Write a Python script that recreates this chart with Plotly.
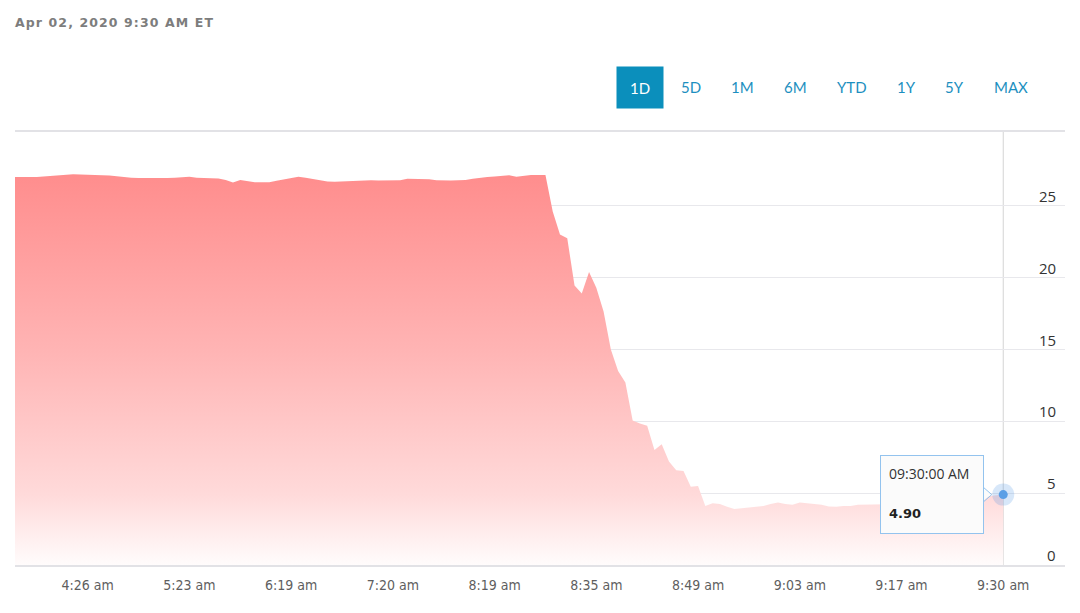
import plotly.graph_objects as go

# ---- data (price per sample, index-based time axis) ----
price = [
    27.00, 27.02, 27.00, 27.00, 27.05, 27.10, 27.15, 27.20, 27.20, 27.18,
    27.15, 27.15, 27.13, 27.12, 27.05, 27.00, 26.96, 26.94, 26.93, 26.93,
    26.93, 26.93, 26.95, 27.00, 27.03, 26.95, 26.93, 26.93, 26.90, 26.80,
    26.63, 26.80, 26.70, 26.65, 26.65, 26.65, 26.75, 26.85, 26.95, 27.03,
    26.95, 26.86, 26.80, 26.70, 26.68, 26.70, 26.75, 26.78, 26.78, 26.78,
    26.76, 26.75, 26.74, 26.78, 26.88, 26.87, 26.86, 26.85, 26.78, 26.76,
    26.76, 26.78, 26.80, 26.88, 26.96, 27.00, 27.05, 27.10, 27.13, 27.02,
    27.10, 27.15, 27.15, 27.15, 24.60, 23.00, 22.75, 19.45, 18.90, 20.40,
    19.30, 17.65, 15.00, 13.50, 12.70, 10.05, 9.85, 9.70, 8.00, 8.40,
    7.20, 6.60, 6.55, 5.45, 5.50, 4.10, 4.30, 4.25, 4.05, 3.90,
    3.95, 4.00, 4.00, 4.10, 4.25, 4.35, 4.25, 4.20, 4.35, 4.30,
    4.22, 4.20, 4.08, 4.05, 4.10, 4.10, 4.20, 4.20, 4.20, 4.20,
    4.22, 4.25, 4.25, 4.30, 4.30, 4.35, 4.35, 4.40, 4.45, 4.50,
    4.55, 4.60, 4.65, 4.70, 4.75, 4.80, 4.90,
]
tick_index = [10, 24, 38, 52, 66, 80, 94, 108, 122, 136]
tick_labels = ["4:26 am", "5:23 am", "6:19 am", "7:20 am", "8:19 am",
               "8:35 am", "8:49 am", "9:03 am", "9:17 am", "9:30 am"]
y_ticks = [0, 5, 10, 15, 20, 25]
title_text = "Apr 02, 2020 9:30 AM ET"
range_buttons = ["1D", "5D", "1M", "6M", "YTD", "1Y", "5Y", "MAX"]
active_button = "1D"
hover_time = "09:30:00 AM"

x = list(range(len(price)))
last_x = x[-1]
last_y = price[-1]

fig = go.Figure()
fig.add_trace(go.Scatter(
    x=x, y=price, mode="lines", line=dict(width=0, color="rgb(255,140,140)"),
    fill="tozeroy",
    fillgradient=dict(
        type="vertical", start=0, stop=27.2,
        colorscale=[[0, "rgb(255,252,252)"], [0.18, "rgb(255,218,218)"],
                    [0.55, "rgb(255,180,180)"], [1, "rgb(255,141,141)"]],
    ),
    hoverinfo="skip", showlegend=False,
))
# hover dot with halo
fig.add_trace(go.Scatter(
    x=[last_x], y=[last_y], mode="markers",
    marker=dict(size=22, color="rgba(74,144,226,0.22)", line=dict(width=0)),
    hoverinfo="skip", showlegend=False, cliponaxis=False,
))
fig.add_trace(go.Scatter(
    x=[last_x], y=[last_y], mode="markers",
    marker=dict(size=9, color="#5a9fe6", line=dict(width=0)),
    hoverinfo="skip", showlegend=False, cliponaxis=False,
))

# crosshair (behind the traces)
fig.add_shape(type="line", x0=last_x, x1=last_x, y0=0, y1=1, yref="paper",
              line=dict(color="#d4d4d4", width=1), layer="below")

# tooltip box
fig.add_annotation(x=last_x, y=last_y, xref="x", yref="y", text=" ",
                   showarrow=False, xanchor="right", yanchor="middle",
                   xshift=-19, width=100, height=75, bgcolor="#fbfbfb",
                   bordercolor="#93c3ee", borderwidth=1, borderpad=1)
# tooltip tail (pixel-sized, anchored at the hovered point)
fig.add_shape(type="path", xref="x", yref="y", xsizemode="pixel", ysizemode="pixel",
              xanchor=last_x, yanchor=last_y,
              path="M -21,-7 L -12,0 L -21,7 Z",
              fillcolor="#fbfbfb", line=dict(width=0), layer="above")
fig.add_shape(type="path", xref="x", yref="y", xsizemode="pixel", ysizemode="pixel",
              xanchor=last_x, yanchor=last_y,
              path="M -19.5,-7 L -11.5,0 L -19.5,7",
              line=dict(color="#93c3ee", width=1), layer="above")
fig.add_annotation(x=last_x, y=last_y, xref="x", yref="y", text=hover_time,
                   showarrow=False, xanchor="left", yanchor="middle",
                   xshift=-116, yshift=21,
                   font=dict(family="Open Sans", size=14, color="#333333"))
fig.add_annotation(x=last_x, y=last_y, xref="x", yref="y",
                   text="<b>%.2f</b>" % last_y,
                   showarrow=False, xanchor="left", yanchor="middle",
                   xshift=-116, yshift=-19,
                   font=dict(family="DejaVu Sans", size=13, color="#222222"))

# y tick labels (drawn just above each gridline, right aligned)
for v in y_ticks:
    fig.add_annotation(x=1, y=v, xref="paper", yref="y", text=str(v),
                       showarrow=False, xanchor="right", yanchor="bottom",
                       xshift=-7, yshift=-2,
                       font=dict(family="Open Sans", size=15, color="#333333"))

# title
fig.add_annotation(x=0, y=1.254, xref="paper", yref="paper",
                   text="<span style='letter-spacing:1.1px'><b>%s</b></span>" % title_text,
                   showarrow=False, xanchor="left", yanchor="middle", xshift=-2,
                   font=dict(family="DejaVu Sans", size=12.5, color="#7d7d7d"))

# range buttons
btn_x = [0.5952, 0.6438, 0.6933, 0.7429, 0.7971, 0.8495, 0.8952, 0.9486]
for lbl, bx in zip(range_buttons, btn_x):
    active = lbl == active_button
    fig.add_annotation(
        x=bx, y=1.1028, xref="paper", yref="paper", text=lbl, showarrow=False,
        xanchor="center", yanchor="middle",
        width=44 if active else None, height=39 if active else None,
        bgcolor="#0b8fbc" if active else "rgba(0,0,0,0)",
        font=dict(family="Lato", size=15, color="#ffffff" if active else "#1c8fc0"),
    )

# page body has an 8px default margin: shrink the figure so the plot lands in place
fig.update_layout(
    width=1072, height=605,
    margin=dict(l=7, r=15, t=124, b=48),
    paper_bgcolor="white", plot_bgcolor="white",
    xaxis=dict(
        range=[0, 144.5], tickmode="array", tickvals=tick_index, ticktext=tick_labels,
        showgrid=False, zeroline=False, showline=True, mirror=True,
        linecolor="#e2e2e6", linewidth=1.5, ticks="", ticklabelstandoff=6,
        tickfont=dict(family="DejaVu Sans Condensed, Liberation Sans Narrow", size=14, color="#5e5e5e"),
        fixedrange=True,
    ),
    yaxis=dict(
        range=[0, 30.14], side="right", tickmode="array", tickvals=y_ticks,
        showticklabels=False,
        showgrid=True, gridcolor="#e8e8ec", gridwidth=1, zeroline=False,
        showline=False, ticks="",
        fixedrange=True,
    ),
    hovermode=False,
)

fig.write_html("out.html")
